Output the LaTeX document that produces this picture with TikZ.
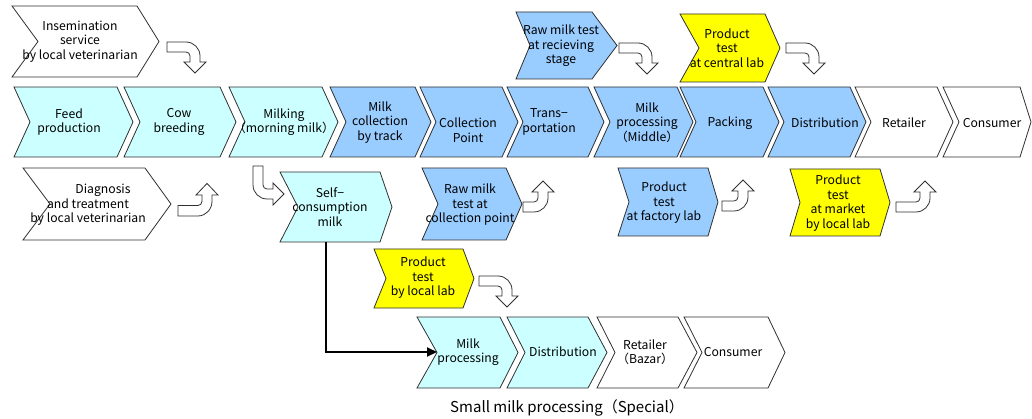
\documentclass[tikz,border=0pt]{standalone}
\usepackage{fontspec}
\newfontfamily\jpfont{Noto Sans CJK JP}
\usetikzlibrary{arrows.meta}

\definecolor{paleCyan}{HTML}{CCFFFF}
\definecolor{skyBlue}{HTML}{99CCFF}
\definecolor{brightYellow}{HTML}{FFFF00}
\definecolor{edgeGray}{HTML}{303030}

\tikzset{
  chevron/.style={draw=edgeGray, line width=0.8pt, line join=miter},
  lbl/.style={align=center, inner sep=0pt, text=black,
    font=\jpfont\fontsize{12.2}{14.5}\selectfont},
  captionlbl/.style={inner sep=0pt, text=black,
    font=\jpfont\fontsize{15}{17}\selectfont},
  blockarrow/.style={draw=edgeGray, fill=white, line width=0.8pt, line join=miter},
  feedline/.style={draw=black, line width=2pt, -{Triangle[length=10pt,width=9pt]}},
  % hooked block arrow: bar runs right from the origin, then turns down;
  % the argument is the distance from the origin to the outer edge of the turn
  hook/.pic={
    \path[blockarrow] (0,0) -- ({#1-14},0)
      .. controls ({#1-6.3},0) and (#1,6.3) .. (#1,14)
      -- (#1,20) -- ({#1+6},20) -- ({#1-5},31) -- ({#1-16},20) -- ({#1-10},20)
      -- ({#1-10},14) .. controls ({#1-10},11.8) and ({#1-11.8},10) .. ({#1-14},10)
      -- (0,10) -- cycle;
  }
}

% chevron: fill, left x, top y, notch x, right x, tip x, bottom y
\newcommand\chev[7]{%
  \path[chevron, fill=#1] (#2,#3) -- (#5,#3) -- (#6,{(#3+#7)/2}) -- (#5,#7)
    -- (#2,#7) -- (#4,{(#3+#7)/2}) -- cycle;}

\begin{document}
\begin{tikzpicture}[x=1pt, y=-1pt]
\useasboundingbox (0,0) rectangle (1032,419);
\fill[white] (0,0) rectangle (1032,419);

% ---- main chain ----
\chev{paleCyan}{14}{87}{30}{117}{133}{157}
\chev{paleCyan}{124}{87}{140}{220}{236}{157}
\chev{paleCyan}{229}{87}{245}{322}{338}{157}
\chev{skyBlue}{330}{87}{346}{415}{431}{157}
\chev{skyBlue}{420}{87}{436}{502}{518}{157}
\chev{skyBlue}{507}{87}{523}{588}{604}{157}
\chev{skyBlue}{594}{87}{610}{677}{693}{157}
\chev{skyBlue}{680}{87}{696}{763}{779}{157}
\chev{skyBlue}{768}{87}{784}{850}{866}{157}
\chev{white}{855}{87}{871}{937}{953}{157}
\chev{white}{943}{87}{959}{1020}{1031}{157}

\node[lbl] (feed)     at (69,122)    {Feed\\production};
\node[lbl] (cow)      at (179,122)   {Cow\\breeding};
\node[lbl] (milking)  at (284,122)   {Milking\\（morning milk）};
\node[lbl] (truck)    at (380,122.5) {Milk\\collection\\by track};
\node[lbl] (cpoint)   at (468,130)   {Collection\\Point};
\node[lbl] (trans)    at (549,122)   {Trans−\\portation};
\node[lbl] (mproc)    at (647,122.5) {Milk\\processing\\（Middle）};
\node[lbl] (packing)  at (730,123)   {Packing};
\node[lbl] (distrib)  at (825,123)   {Distribution};
\node[lbl] (retail)   at (904,123)   {Retailer};
\node[lbl] (consumer) at (992,123)   {Consumer};

% ---- services and tests above the chain ----
\chev{white}{12}{6}{38}{137}{159}{77}
\chev{skyBlue}{516}{12}{530}{592}{617}{79}
\chev{brightYellow}{680}{14}{699}{765}{780}{82}

\node[lbl] (insem)   at (80,41.5) {Insemination\\service\\by local veterinarian};
\node[lbl] (rawrecv) at (561,46)  {Raw milk test\\at recieving\\stage};
\node[lbl] (central) at (727,48)  {Product\\test\\at central lab};

% ---- services and tests below the chain ----
\chev{white}{23}{168}{50}{145}{171}{240}
\chev{paleCyan}{280}{172}{298}{380}{392}{242}
\chev{skyBlue}{422}{168}{438}{506}{522}{240}
\chev{skyBlue}{618}{168}{629}{708}{718}{236}
\chev{brightYellow}{790}{169}{800}{880}{890}{236}
\chev{brightYellow}{374}{249}{386}{463}{474}{308}

\node[lbl] (diag)     at (88,205)  {\hspace*{30pt}Diagnosis\\and treatment\\by local veterinarian};
\node[lbl] (self)     at (330,207) {Self−\\consumption\\milk};
\node[lbl] (rawcoll)  at (470,205) {Raw milk\\test at\\collection point};
\node[lbl] (factory)  at (664,203) {Product\\test\\at factory lab};
\node[lbl] (market)   at (838,203) {Product\\test\\at market\\by local lab};
\node[lbl] (locallab) at (423,278) {Product\\test\\by local lab};

% ---- small milk processing chain ----
\chev{paleCyan}{417}{317}{437}{500}{518}{388}
\chev{paleCyan}{507}{317}{525}{588}{607}{388}
\chev{white}{597}{317}{615}{678}{697}{388}
\chev{white}{684}{317}{702}{768}{785}{388}

\node[lbl] (smproc)   at (468,352) {Milk\\processing};
\node[lbl] (smdist)   at (563,352) {Distribution};
\node[lbl] (smretail) at (645,352) {Retailer\\（Bazar）};
\node[lbl] (smcons)   at (733,352) {Consumer};

\node[captionlbl] (caption) at (567,408) {Small milk processing（Special）};

% ---- hooked block arrows ----
\pic at (167,42) {hook=33};
\pic at (619,43) {hook=33};
\pic at (786,43) {hook=33};
\pic at (479,276) {hook=33};
\pic[yscale=-1.05] at (178,216) {hook=34};
\pic[yscale=-1] at (523,212) {hook=25};
\pic[yscale=-1] at (722,211) {hook=26};
\pic[yscale=-1] at (896,212) {hook=34};
% from milking down into self-consumption
\path[blockarrow] (253,166) -- (253,185) .. controls (253,192.7) and (259.3,199) .. (267,199)
  -- (273,199) -- (273,205) -- (284,194) -- (273,183) -- (273,189) -- (267,189)
  .. controls (264.8,189) and (263,187.2) .. (263,185) -- (263,166) -- cycle;

% ---- self-consumption milk feeds the small processing chain ----
\coordinate (selfdrop) at (326,242);
\coordinate (smin) at (437,352);
\draw[feedline] (selfdrop) |- (smin);
\end{tikzpicture}
\end{document}
